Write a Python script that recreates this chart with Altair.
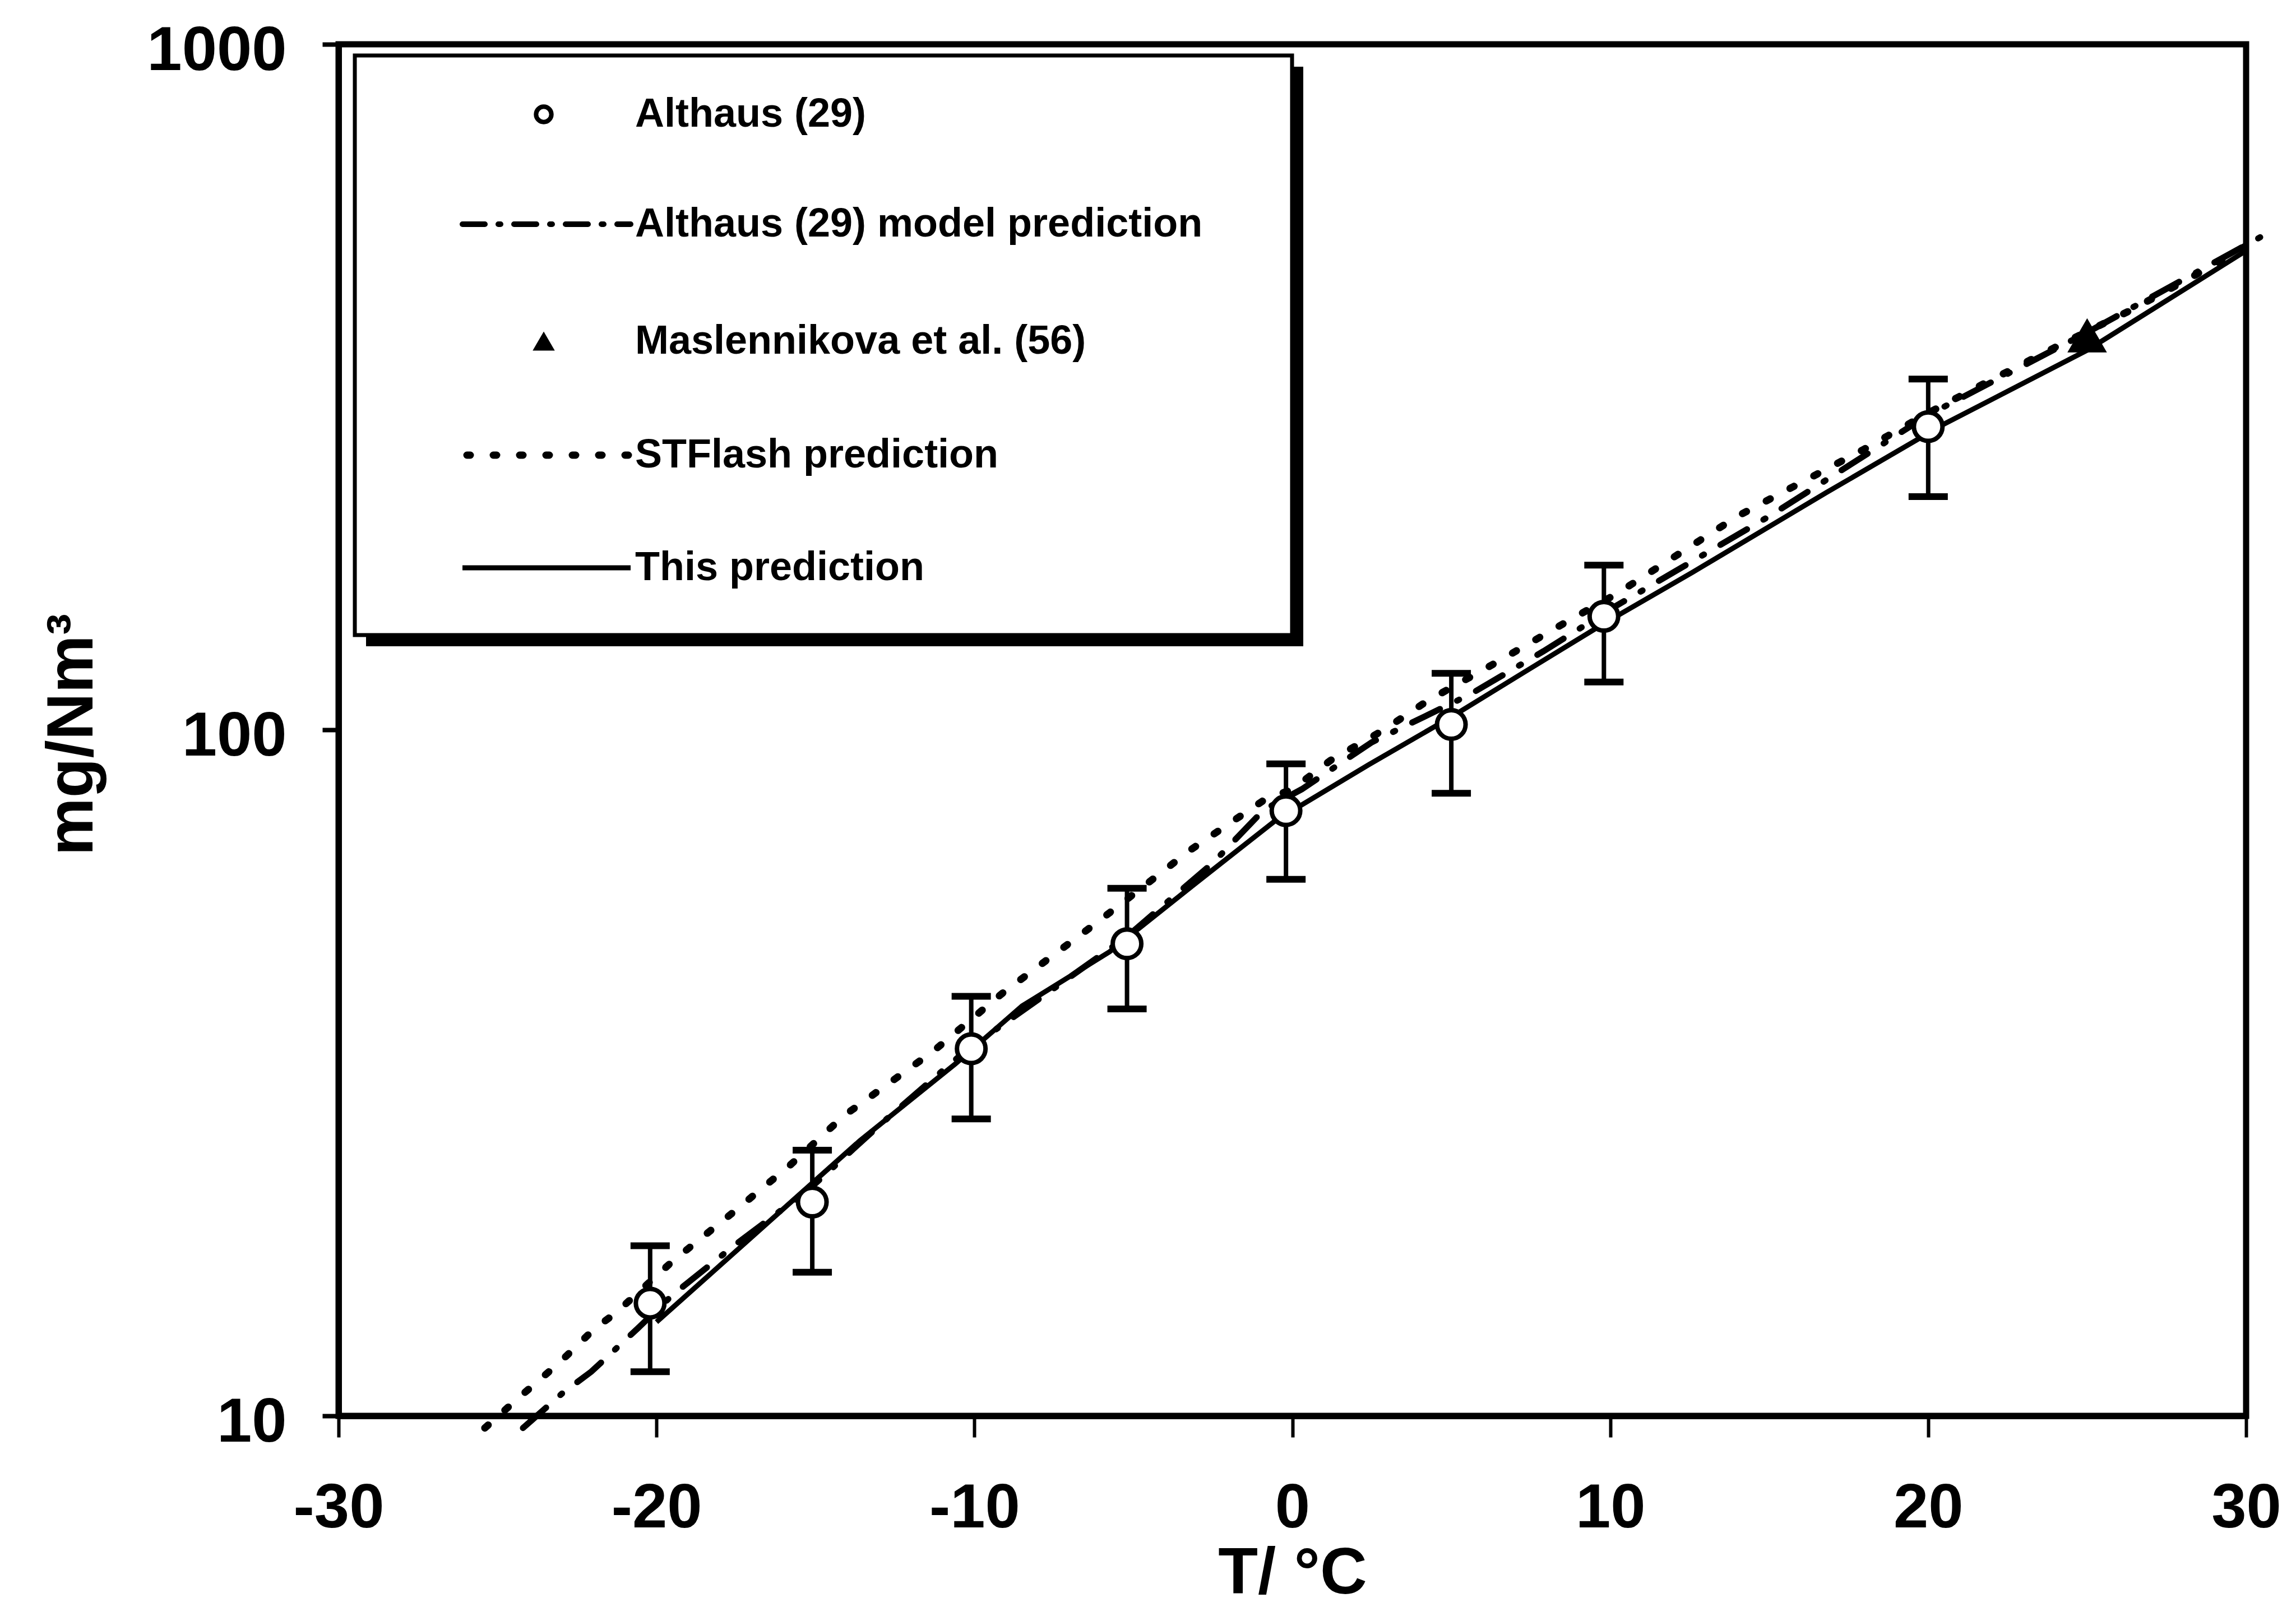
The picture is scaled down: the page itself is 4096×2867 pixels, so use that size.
import altair as alt
import pandas as pd

FONT = "Liberation Sans"

# ---------------- data ----------------
# Althaus (29) experimental points with error bars
alt_T = [-20.2, -15.1, -10.1, -5.2, -0.2, 5.0, 9.8, 20.0]
alt_C = [14.6, 20.5, 34.3, 48.8, 76.3, 101.9, 146.5, 277.0]
alt_hi = [17.7, 24.4, 40.9, 58.8, 89.3, 121.0, 174.0, 325.0]
alt_lo = [11.6, 16.2, 27.1, 39.2, 60.6, 80.9, 117.5, 219.0]

# Maslennikova et al. (56)
mas_T = [25.0]
mas_C = [376.0]

# Althaus (29) model prediction (dash-dot)
model_T = [-24.2, -22.95, -22.05, -20.6, -19.5, -17.5, -15.2, -13.0, -10.3, -7.5,
           -5.2, -2.5, -0.9, 0.3, 2.5, 5.6, 7.9, 10.0, 15.0, 20.0, 25.0, 30.6]
model_C = [9.6, 10.8, 11.6, 13.4, 15.0, 17.8, 21.4, 26.5, 34.0, 42.0,
           50.0, 64.0, 76.5, 82.0, 96.0, 112.8, 130.3, 150.0, 205.0, 288.0, 380.0, 528.0]

# STFlash prediction (dotted)
stf_T = [-25.4, -24.3, -23.05, -21.95, -21.3, -19.5, -17.65, -15.8, -14.1, -11.3,
         -9.1, -6.1, -3.2, -0.9, 0.0, 1.2, 2.9, 4.25, 6.35, 8.7, 10.2, 14.0, 18.0,
         20.0, 21.7, 24.2, 26.4, 28.4, 30.5]
stf_C = [9.6, 10.66, 11.96, 13.4, 14.1, 16.8, 19.7, 23.2, 27.4, 34.0,
         41.4, 52.6, 66.9, 79.0, 82.0, 90.3, 100.2, 110.3, 125.0, 144.5, 158.0, 205.0, 257.0,
         290.0, 319.0, 365.6, 410.0, 460.8, 524.0]

# This prediction (solid)
this_T = [-20.0, -16.35, -13.6, -10.6, -8.5, -5.75, -3.1, -0.55, 2.4, 5.0, 7.3, 9.8,
          12.6, 16.8, 20.45, 25.0, 30.0]
this_C = [13.7, 19.4, 25.2, 32.6, 39.6, 47.5, 59.5, 73.7, 89.0, 104.5, 121.5, 143.0,
          170.0, 222.0, 278.6, 358.0, 500.0]

x_ticks = [-30, -20, -10, 0, 10, 20, 30]
y_ticks = [10, 100, 1000]

legend_labels = ["Althaus (29)", "Althaus (29) model prediction",
                 "Maslennikova et al. (56)", "STFlash prediction", "This prediction"]

# ---------------- layout (pixels) ----------------
W, H = 3403, 2447
PAD_L, PAD_T = 604, 79
PAD_R = 4096 - PAD_L - W
PAD_B = 2867 - PAD_T - H

x_scale = alt.Scale(domain=[-30, 30], nice=False, zero=False)
y_scale = alt.Scale(type="log", domain=[10, 1000], nice=False)

x_axis = alt.Axis(values=x_ticks, title="T/ °C", labelExpr="datum.value + ''",
                  tickSize=38, tickWidth=6, labelPadding=160, labelBaseline="alphabetic",
                  labelFlush=False, labelOverlap=False, labelBound=False, labelLimit=0,
                  titleY=316, titleBaseline="alphabetic", grid=False, domainWidth=11)
y_axis = alt.Axis(values=y_ticks, title="mg/Nm³", labelExpr="datum.value + ''",
                  tickSize=29, tickWidth=8, labelPadding=64, labelBaseline="middle",
                  labelOffset=11, labelFlush=False, labelOverlap=False, labelBound=False,
                  labelLimit=0, titleLimit=0,
                  titleAngle=270, titleX=-440, titleY=1231, titleAlign="center",
                  titleBaseline="alphabetic", grid=False, domainWidth=11)


def X(field="T"):
    return alt.X(f"{field}:Q", scale=x_scale, axis=x_axis)


def Y(field="C"):
    return alt.Y(f"{field}:Q", scale=y_scale, axis=y_axis)


pts = pd.DataFrame({"T": alt_T, "C": alt_C, "hi": alt_hi, "lo": alt_lo})
caps = pd.DataFrame({"T": alt_T + alt_T, "C": alt_hi + alt_lo})
mas = pd.DataFrame({"T": mas_T, "C": mas_C})
model = pd.DataFrame({"T": model_T, "C": model_C})
stf = pd.DataFrame({"T": stf_T, "C": stf_C})
this = pd.DataFrame({"T": this_T, "C": this_C})

solid = alt.Chart(this).mark_line(color="black", strokeWidth=9).encode(x=X(), y=Y())
dashdot = alt.Chart(model).mark_line(color="black", strokeWidth=11, strokeDash=[55, 34, 4, 34],
                                     strokeCap="round").encode(x=X(), y=Y())
dotted = alt.Chart(stf).mark_line(color="black", strokeWidth=13, strokeDash=[8, 40],
                                  strokeCap="round").encode(x=X(), y=Y())

err = alt.Chart(pts).mark_rule(color="black", strokeWidth=8).encode(
    x=X(), y=Y("hi"), y2="lo")
cap = alt.Chart(caps).mark_tick(orient="horizontal", color="black", size=70,
                                thickness=12, opacity=1).encode(x=X(), y=Y())
circ = alt.Chart(pts).mark_point(shape="circle", filled=True, fill="white", stroke="black",
                                 strokeWidth=8, size=2600, opacity=1).encode(x=X(), y=Y())
tri = alt.Chart(mas).mark_point(shape="triangle-up", filled=True, fill="black",
                                stroke="black", strokeWidth=2, size=4500,
                                opacity=1).encode(x=X(), y=Y())

# ---------------- legend box (drawn in pixel space) ----------------
one = pd.DataFrame({"k": [0]})
LX0, LX1, LY0, LY1, SH = 29, 1701, 20, 1054, 20
row_y = [125, 321, 530, 733, 934]
SYM_X, LINE_X0, LINE_X1, TEXT_X = 366, 221, 521, 529

shadow = alt.Chart(one).mark_rect(color="black").encode(
    x=alt.value(LX0 + SH), x2=alt.value(LX1 + SH), y=alt.value(LY0 + SH), y2=alt.value(LY1 + SH))
box = alt.Chart(one).mark_rect(fill="white", stroke="black", strokeWidth=7).encode(
    x=alt.value(LX0), x2=alt.value(LX1), y=alt.value(LY0), y2=alt.value(LY1))

leg = [shadow, box]
leg.append(alt.Chart(one).mark_point(shape="circle", filled=True, fill="white", stroke="black",
                                     strokeWidth=8, size=750, opacity=1).encode(
    x=alt.value(SYM_X), y=alt.value(row_y[0])))
leg.append(alt.Chart(one).mark_rule(color="black", strokeWidth=10, strokeDash=[40, 24, 4, 24],
                                    strokeCap="round").encode(
    x=alt.value(LINE_X0), x2=alt.value(LINE_X1), y=alt.value(row_y[1])))
leg.append(alt.Chart(one).mark_point(shape="triangle-up", filled=True, fill="black",
                                     stroke="black", size=1300, opacity=1).encode(
    x=alt.value(SYM_X), y=alt.value(row_y[2])))
leg.append(alt.Chart(one).mark_rule(color="black", strokeWidth=13, strokeDash=[6, 41],
                                    strokeCap="round").encode(
    x=alt.value(LINE_X0 + 8), x2=alt.value(LINE_X1), y=alt.value(row_y[3])))
leg.append(alt.Chart(one).mark_rule(color="black", strokeWidth=9).encode(
    x=alt.value(LINE_X0), x2=alt.value(LINE_X1), y=alt.value(row_y[4])))
for lab, yy in zip(legend_labels, row_y):
    leg.append(alt.Chart(one).mark_text(font=FONT, fontSize=72, fontWeight="bold",
                                        align="left", baseline="middle", color="black").encode(
        x=alt.value(TEXT_X), y=alt.value(yy), text=alt.value(lab)))

chart = alt.layer(dotted, dashdot, solid, err, cap, circ, tri, *leg).properties(
    width=W, height=H,
    autosize=alt.AutoSizeParams(type="none"),
    padding={"left": PAD_L, "top": PAD_T, "right": PAD_R, "bottom": PAD_B},
    background="white",
).configure_view(
    stroke="black", strokeWidth=11
).configure_axis(
    domainColor="black", tickColor="black", labelColor="black", titleColor="black",
    labelFont=FONT, titleFont=FONT, labelFontSize=112, titleFontSize=116,
    labelFontWeight="bold", titleFontWeight="bold",
)

chart.save("out.html", embed_options={"renderer": "svg", "actions": False})
